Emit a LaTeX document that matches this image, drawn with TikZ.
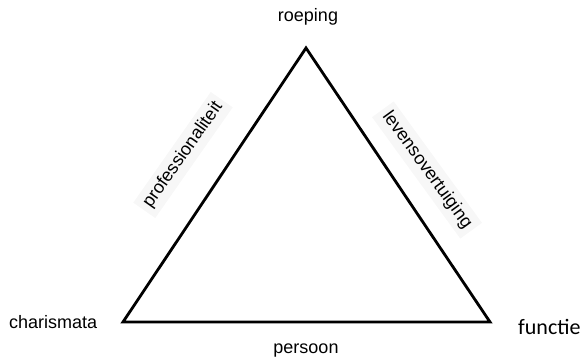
\documentclass[tikz,border=0pt]{standalone}
\usepackage{fontspec}
\setmainfont{Liberation Sans}
\newfontfamily\calibrifont{Carlito}
\begin{document}
\begin{tikzpicture}[x=1pt,y=-1pt,
  lbl/.style={inner sep=1pt, font=\fontsize{18}{21}\selectfont},
  sidelbl/.style={lbl, fill=black!3, inner sep=5pt},
  tri/.style={line width=2.8pt, line join=miter}]
\useasboundingbox (0,0) rectangle (586,363);
\coordinate (top) at (306,48);
\coordinate (bl) at (123,322);
\coordinate (br) at (490,322);
\draw[tri] (top) -- (br) -- (bl) -- cycle;
\node[lbl] (roeping) at (308,17) {roeping};
\node[lbl, anchor=west] (charismata) at (8,322) {charismata};
\node[inner sep=1pt, anchor=west, font=\calibrifont\fontsize{22}{26}\selectfont] (functie) at (517,327) {functie};
\node[lbl] (persoon) at (306,351) {persoon};
\node[sidelbl, rotate=55] (prof) at (183,155) {professionaliteit};
\node[sidelbl, rotate=-54] (leven) at (427,170) {levensovertuiging};
\end{tikzpicture}
\end{document}
